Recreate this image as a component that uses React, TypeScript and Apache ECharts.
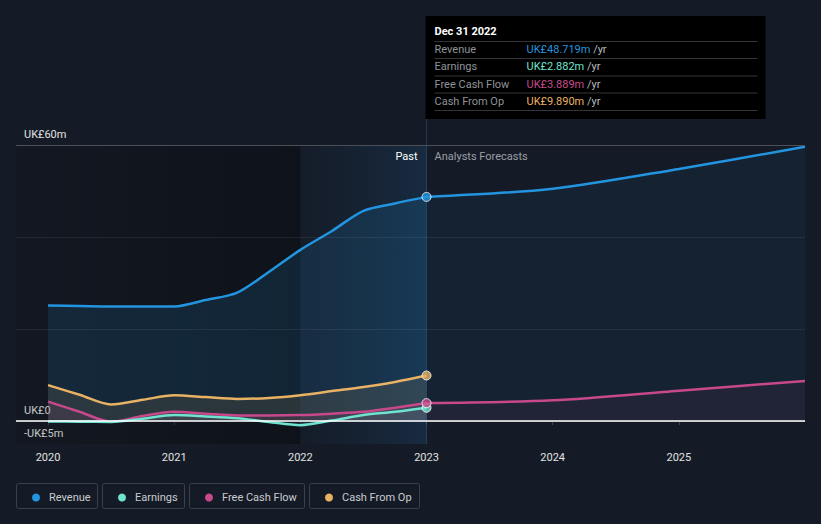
import React, { useEffect, useRef } from "react";
import * as echarts from "echarts";

// ---- data (UK£ millions) ----
const pastX = [2020, 2020.25, 2020.5, 2020.75, 2021, 2021.25, 2021.5, 2021.75, 2022, 2022.25, 2022.5, 2022.75, 2023];
const revenuePast = [25.1, 25.0, 24.9, 24.9, 24.9, 26.3, 27.9, 32.4, 37.2, 41.3, 45.7, 47.3, 48.719];
const earningsPast = [-0.1, -0.15, -0.2, 0.5, 1.3, 1.0, 0.6, -0.2, -0.9, 0.1, 1.3, 2.0, 2.882];
const fcfPast = [4.2, 2.0, -0.15, 1.1, 2.0, 1.6, 1.2, 1.2, 1.3, 1.6, 2.0, 2.9, 3.889];
const cfoPast = [7.8, 5.7, 3.6, 4.6, 5.6, 5.2, 4.8, 5.0, 5.6, 6.5, 7.4, 8.5, 9.89];

const forecastX = [2023, 2024, 2025, 2026];
const revenueForecast = [48.719, 50.5, 54.8, 59.6];
const fcfForecast = [3.889, 4.5, 6.6, 8.7];

const yearTicks = [2020, 2021, 2022, 2023, 2024, 2025];
const yLabelValues = [-5, 0, 60];
const gridValues = [20, 40, 60];

const seriesNames = ["Revenue", "Earnings", "Free Cash Flow", "Cash From Op"];
const colors: Record<string, string> = {
  Revenue: "#2394df",
  Earnings: "#6fe3cf",
  "Free Cash Flow": "#c8488c",
  "Cash From Op": "#e9b163",
};
const tooltipDate = "Dec 31 2022";
const pastLabel = "Past";
const forecastLabel = "Analysts Forecasts";

const zip = (xs: number[], ys: number[]) => xs.map((x, i) => [x, ys[i]]);
const last = (a: number[]) => a[a.length - 1];
const fmt = (v: number) => (v < 0 ? "-UK£" + Math.abs(v) + "m" : v === 0 ? "UK£0" : "UK£" + v + "m");

const FONT = "Roboto, 'Noto Sans', sans-serif";
const BG = "#151b26";

export default function App() {
  const ref = useRef<HTMLDivElement>(null);

  useEffect(() => {
    if (!ref.current) return;
    const chart = echarts.init(ref.current, undefined, { renderer: "svg" });

    const lineSeries = (name: string, data: number[][], areaAlpha: string, extra: any = {}) => ({
      name,
      type: "line",
      data,
      smooth: 0.3,
      showSymbol: false,
      lineStyle: { color: colors[name], width: 2.5 },
      itemStyle: { color: colors[name] },
      areaStyle: { color: areaAlpha },
      silent: true,
      ...extra,
    });

    const boxes = [
      [16, 81],
      [102, 82],
      [189, 115],
      [309, 110],
    ];

    const option: any = {
      animation: false,
      backgroundColor: BG,
      textStyle: { fontFamily: FONT },
      grid: { left: 16, right: 16, top: 145, bottom: 80, containLabel: false },
      xAxis: {
        type: "value",
        min: 2019.746,
        max: 2026,
        axisLine: { show: true, lineStyle: { color: "#3f454f", width: 1 } },
        axisTick: { show: true, customValues: yearTicks, length: 4, lineStyle: { color: "#3f454f" } },
        axisLabel: {
          customValues: yearTicks,
          formatter: (v: number) => String(Math.round(v)),
          color: "#e2e2e2",
          fontSize: 11,
          margin: 8,
          fontFamily: FONT,
        },
        splitLine: { show: false },
      },
      yAxis: {
        type: "value",
        min: -5,
        max: 60,
        axisLine: { show: false },
        axisTick: { show: false },
        splitLine: { show: false },
        axisLabel: {
          customValues: yLabelValues,
          inside: true,
          formatter: (v: number) => fmt(v),
          color: "#e2e2e2",
          fontSize: 11,
          margin: 8,
          verticalAlign: "bottom",
          padding: [0, 0, 5, 0],
          fontFamily: FONT,
        },
      },
      legend: seriesNames.map((n, i) => ({
        data: [n],
        left: boxes[i][0] + 11,
        top: 487,
        icon: "circle",
        itemWidth: 8,
        itemHeight: 8,
        selectedMode: false,
        textStyle: { color: "#c9cbce", fontSize: 11, padding: [0, 0, 0, 4], fontFamily: FONT },
      })),
      series: [
        lineSeries("Revenue", zip(pastX, revenuePast), "rgba(35,148,223,0.2)", {
          markArea: {
            silent: true,
            data: [
              [
                {
                  xAxis: 2019.746,
                  itemStyle: {
                    color: new echarts.graphic.LinearGradient(0, 0, 1, 0, [
                      { offset: 0, color: "rgba(0,0,0,0.12)" },
                      { offset: 1, color: "rgba(0,0,0,0.32)" },
                    ]),
                  },
                },
                { xAxis: 2022 },
              ],
              [
                {
                  xAxis: 2022,
                  itemStyle: {
                    color: new echarts.graphic.LinearGradient(0, 0, 1, 0, [
                      { offset: 0, color: "rgba(25,70,115,0.04)" },
                      { offset: 1, color: "rgba(30,100,160,0.22)" },
                    ]),
                  },
                },
                { xAxis: 2023 },
              ],
            ],
          },
          markLine: {
            silent: true,
            symbol: ["none", "none"],
            label: { show: false },
            data: [
              ...gridValues.map((v) => ({
                yAxis: v,
                lineStyle: { color: v === 60 ? "#4a4f58" : "rgba(255,255,255,0.07)", width: 1, type: "solid" },
              })),
              { yAxis: 0, lineStyle: { color: "#ffffff", width: 1.5, type: "solid" } },
            ],
          },
        }),
        lineSeries("Revenue", zip(forecastX, revenueForecast), "rgba(35,148,223,0.09)"),
        lineSeries("Cash From Op", zip(pastX, cfoPast), "rgba(233,177,99,0.17)"),
        lineSeries("Free Cash Flow", zip(pastX, fcfPast), "rgba(200,72,140,0.15)"),
        lineSeries("Free Cash Flow", zip(forecastX, fcfForecast), "rgba(200,72,140,0.1)"),
        lineSeries("Earnings", zip(pastX, earningsPast), "rgba(111,227,207,0.1)"),
        {
          name: tooltipDate,
          type: "scatter",
          z: 6,
          silent: true,
          symbol: "circle",
          symbolSize: 9,
          data: [
            { value: [last(pastX), last(earningsPast)], itemStyle: { color: colors["Earnings"] } },
            { value: [last(pastX), last(fcfPast)], itemStyle: { color: colors["Free Cash Flow"] } },
            { value: [last(pastX), last(cfoPast)], itemStyle: { color: colors["Cash From Op"] } },
            { value: [last(pastX), last(revenuePast)], itemStyle: { color: colors["Revenue"] } },
          ],
          itemStyle: { borderColor: "#ffffff", borderWidth: 1 },
        },
      ],
    };

    chart.setOption(option);

    const px = chart.convertToPixel({ xAxisIndex: 0 }, last(pastX)) as number;
    const yBottom = chart.convertToPixel({ yAxisIndex: 0 }, -5) as number;

    const rows = [
      ["Revenue", last(revenuePast)],
      ["Earnings", last(earningsPast)],
      ["Free Cash Flow", last(fcfPast)],
      ["Cash From Op", last(cfoPast)],
    ] as [string, number][];
    const rowY = [49.5, 66.5, 84, 101];
    const sepY = [41.5, 58.5, 76, 93, 110.5];

    const elements: any[] = [
      {
        type: "line",
        z: 4,
        silent: true,
        shape: { x1: px, y1: 119, x2: px, y2: yBottom },
        style: { stroke: "rgba(60,110,160,0.38)", lineWidth: 1 },
      },
      {
        type: "text",
        z: 4,
        x: px - 9,
        y: 156,
        style: { text: pastLabel, align: "right", verticalAlign: "middle", fill: "#ffffff", fontSize: 11, fontFamily: FONT },
      },
      {
        type: "text",
        z: 4,
        x: px + 8,
        y: 156,
        style: { text: forecastLabel, align: "left", verticalAlign: "middle", fill: "#9a9ea5", fontSize: 11, fontFamily: FONT },
      },
      {
        type: "rect",
        z: 10,
        shape: { x: px - 1, y: 16, width: 340, height: 103 },
        style: { fill: "#000000" },
      },
      {
        type: "text",
        z: 11,
        x: px + 8,
        y: 31,
        style: { text: tooltipDate, fill: "#ffffff", fontSize: 11, fontWeight: "bold", verticalAlign: "middle", fontFamily: FONT },
      },
      ...sepY.map((y) => ({
        type: "line",
        z: 11,
        shape: { x1: px + 8, y1: y, x2: px + 331, y2: y },
        style: { stroke: "#333538", lineWidth: 1 },
      })),
      ...rows.map(([n, v], i) => ({
        type: "text",
        z: 11,
        x: px + 8,
        y: rowY[i],
        style: { text: n, fill: "#8f9399", fontSize: 11, verticalAlign: "middle", fontFamily: FONT },
      })),
      ...rows.map(([n, v], i) => ({
        type: "text",
        z: 11,
        x: px + 100,
        y: rowY[i],
        style: {
          text: "{v|UK£" + v.toFixed(3) + "m} {u|/yr}",
          verticalAlign: "middle",
          fontSize: 11,
          fontFamily: FONT,
          rich: {
            v: { fill: colors[n], fontSize: 11, fontFamily: FONT },
            u: { fill: "#b8bbbf", fontSize: 11, fontFamily: FONT },
          },
        },
      })),
      ...boxes.map(([x, w]) => ({
        type: "rect",
        z: 0,
        silent: true,
        shape: { x: x + 0.5, y: 483.5, width: w, height: 25, r: 2 },
        style: { fill: "none", stroke: "#3a404b", lineWidth: 1 },
      })),
    ];

    chart.setOption({ graphic: { elements } });

    return () => chart.dispose();
  }, []);

  return (
    <div
      ref={ref}
      style={{ position: "fixed", left: 0, top: 0, width: 821, height: 524, background: BG }}
    />
  );
}
